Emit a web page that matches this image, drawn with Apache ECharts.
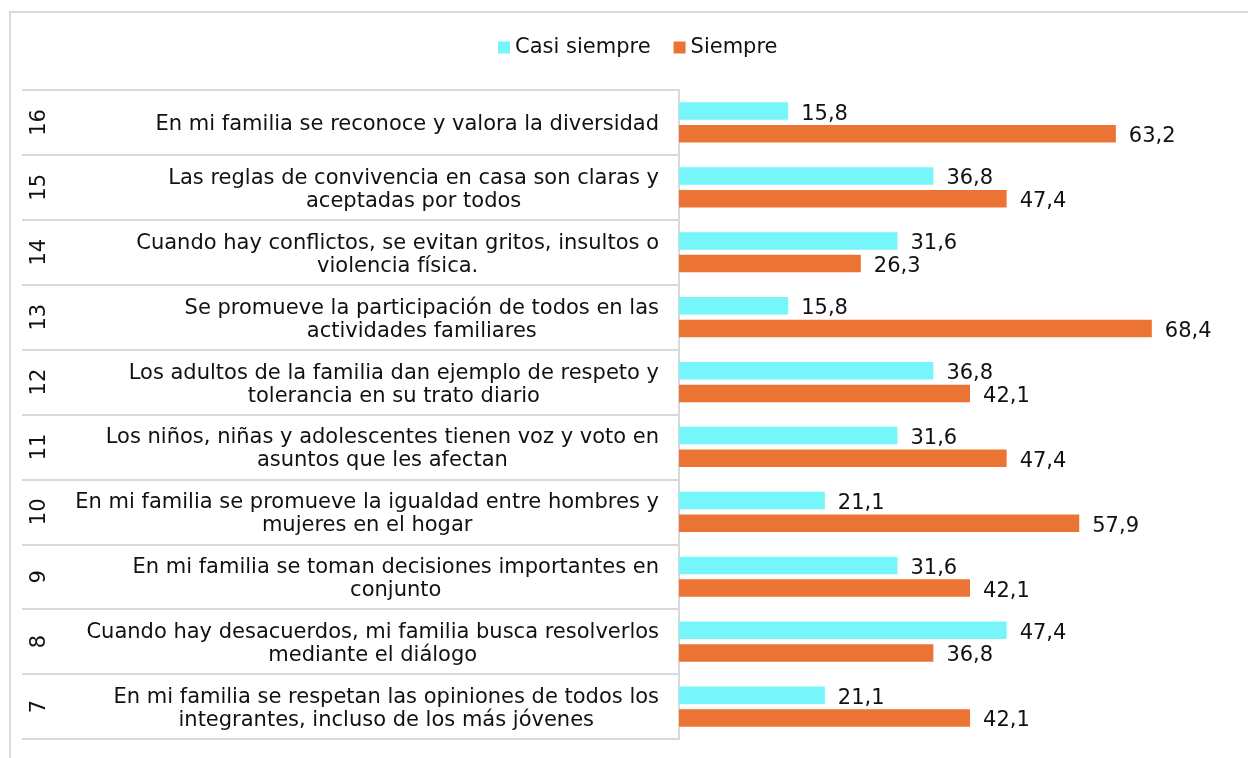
<!DOCTYPE html>
<html>
<head>
<meta charset="utf-8">
<script src="https://cdn.jsdelivr.net/npm/echarts@6/dist/echarts.min.js"></script>
<style>
html,body{margin:0;padding:0;background:#fff;}
#chart{width:1248px;height:758px;}
</style>
</head>
<body>
<div id="chart"></div>
<script>
const itemNumbers = ['16','15','14','13','12','11','10','9','8','7'];
const itemTexts = [
  'En mi familia se reconoce y valora la diversidad',
  'Las reglas de convivencia en casa son claras y\naceptadas por todos',
  'Cuando hay conflictos, se evitan gritos, insultos o\nviolencia física.',
  'Se promueve la participación de todos en las\nactividades familiares',
  'Los adultos de la familia dan ejemplo de respeto y\ntolerancia en su trato diario',
  'Los niños, niñas y adolescentes tienen voz y voto en\nasuntos que les afectan',
  'En mi familia se promueve la igualdad entre hombres y\nmujeres en el hogar',
  'En mi familia se toman decisiones importantes en\nconjunto',
  'Cuando hay desacuerdos, mi familia busca resolverlos\nmediante el diálogo',
  'En mi familia se respetan las opiniones de todos los\nintegrantes, incluso de los más jóvenes'
];
const seriesNames = ['Casi siempre', 'Siempre'];
const casiSiempre = [15.8, 36.8, 31.6, 15.8, 36.8, 31.6, 21.1, 31.6, 47.4, 21.1];
const siempre = [63.2, 47.4, 26.3, 68.4, 42.1, 47.4, 57.9, 42.1, 36.8, 42.1];

const FONT = 'DejaVu Sans';
const FS = 21;
const TXT = '#111';
const LINE = '#d9d9d9';

const chart = echarts.init(document.getElementById('chart'), null, {renderer: 'canvas'});
const fmt = v => v.toFixed(1).replace('.', ',');

chart.setOption({
  animation: false,
  textStyle: {fontFamily: FONT},
  graphic: [{
    type: 'rect', silent: true, z: -10,
    shape: {x: 10, y: 12, width: 1300, height: 800},
    style: {fill: 'none', stroke: LINE, lineWidth: 2}
  }],
  legend: {
    data: seriesNames,
    left: 493, top: 32,
    itemWidth: 12, itemHeight: 12, itemGap: 23,
    icon: 'rect',
    textStyle: {fontFamily: FONT, fontSize: FS, color: TXT}
  },
  grid: [
    {left: 679, top: 90, width: 553, height: 649, containLabel: false},
    {left: 22, top: 90, width: 657, height: 649, containLabel: false}
  ],
  xAxis: [
    {type: 'value', gridIndex: 0, min: 0, max: 80, show: false},
    {type: 'value', gridIndex: 1, min: 0, max: 1, show: false}
  ],
  yAxis: [
    {
      type: 'category', gridIndex: 0, inverse: true, data: itemTexts,
      axisLine: {show: true, lineStyle: {color: LINE, width: 2}},
      axisTick: {show: false},
      axisLabel: {
        margin: 20,
        padding: [5, 0, 0, 0],
        formatter: v => v.split('\n').map(l => '{c|' + l + '}').join('\n'),
        rich: {c: {align: 'center', fontFamily: FONT, fontSize: FS, color: TXT, lineHeight: 23}}
      }
    },
    {
      type: 'category', gridIndex: 1, inverse: true, data: itemNumbers,
      axisLine: {show: false}, axisTick: {show: false},
      splitLine: {show: true, lineStyle: {color: LINE, width: 2}},
      axisLabel: {inside: true, rotate: 90, margin: 7, fontFamily: FONT, fontSize: FS, color: TXT}
    }
  ],
  series: [
    {
      name: seriesNames[0], type: 'bar', data: casiSiempre,
      xAxisIndex: 0, yAxisIndex: 0,
      barGap: '30%', barCategoryGap: '38%',
      itemStyle: {color: '#76F5FB'},
      label: {show: true, position: 'right', distance: 13, offset: [0, 3],
        formatter: p => fmt(p.value), fontFamily: FONT, fontSize: FS, color: TXT}
    },
    {
      name: seriesNames[1], type: 'bar', data: siempre,
      xAxisIndex: 0, yAxisIndex: 0,
      barGap: '30%', barCategoryGap: '38%',
      itemStyle: {color: '#EB7334'},
      label: {show: true, position: 'right', distance: 13, offset: [0, 3],
        formatter: p => fmt(p.value), fontFamily: FONT, fontSize: FS, color: TXT}
    }
  ]
});
</script>
</body>
</html>
